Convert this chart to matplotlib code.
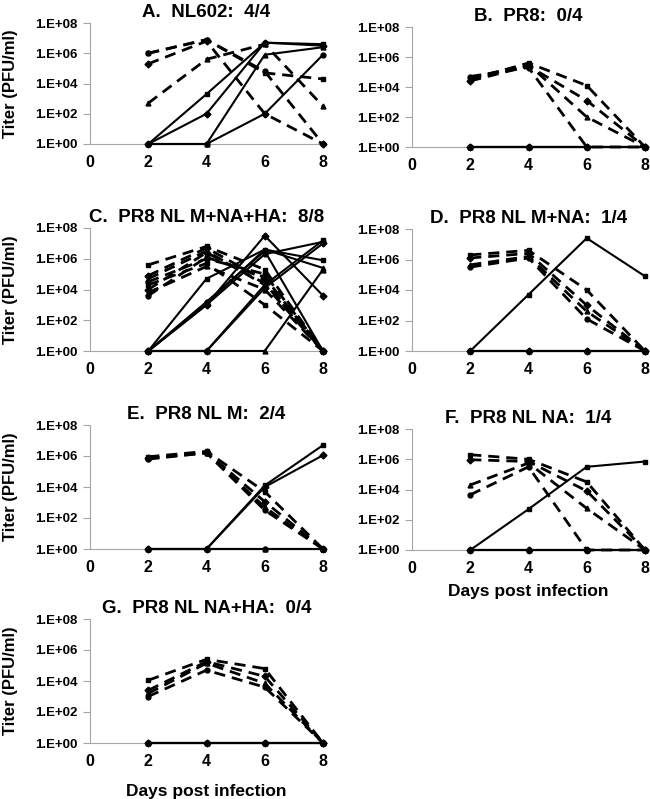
import numpy as np
import matplotlib
matplotlib.use("Agg")
import matplotlib.pyplot as plt

plt.rcParams['font.family'] = ['Liberation Sans', 'DejaVu Sans']
plt.rcParams['font.weight'] = 'bold'

days = [2, 4, 6, 8]

# log10 titer (PFU/ml); 0 means below detection (plotted at 1.E+00)
# dashed = inoculated animals, solid = contact animals
A_dashed = [[6.0, 6.9, 4.7, 4.3], [5.3, 6.8, 2.0, 0.0], [2.7, 5.6, 6.6, 2.5], [6.0, 6.9, 4.8, 0.0]]
A_solid = [[0.0, 3.3, 6.7, 6.6], [0.0, 2.0, 6.7, 6.5], [0.0, 0.0, 5.9, 6.4], [0.0, 0.0, 2.0, 5.9]]

B_dashed = [[4.5, 5.6, 4.1, 0.0], [4.4, 5.4, 3.1, 0.0], [4.6, 5.5, 2.0, 0.0], [4.7, 5.3, 0.0, 0.0]]
B_solid = [[0.0, 0.0, 0.0, 0.0]] * 4

C_dashed = [[5.6, 6.8, 5.3, 0.0], [4.9, 6.7, 4.6, 0.0], [4.7, 6.5, 4.3, 0.0], [4.5, 6.0, 5.0, 0.0],
            [4.3, 5.7, 3.0, 0.0], [4.0, 6.4, 4.4, 0.0], [3.8, 5.5, 4.0, 0.0], [3.6, 6.1, 4.8, 0.0]]
C_solid = [[0.0, 4.7, 6.6, 5.9], [0.0, 3.0, 7.5, 3.6], [0.0, 3.1, 6.6, 5.4], [0.0, 3.2, 6.5, 0.0],
           [0.0, 0.0, 4.3, 7.2], [0.0, 0.0, 4.1, 7.0], [0.0, 0.0, 0.0, 5.3], [0.0, 3.0, 6.3, 7.1]]

D_dashed = [[6.3, 6.6, 4.0, 0.0], [6.1, 6.4, 3.0, 0.0], [5.65, 6.2, 2.6, 0.0], [5.5, 6.1, 2.1, 0.0]]
D_solid = [[0.0, 3.7, 7.4, 4.9], [0.0, 0.0, 0.0, 0.0], [0.0, 0.0, 0.0, 0.0], [0.0, 0.0, 0.0, 0.0]]

E_dashed = [[5.95, 6.3, 3.7, 0.0], [5.85, 6.25, 3.05, 0.0], [5.85, 6.2, 2.7, 0.0], [5.8, 6.2, 2.5, 0.0]]
E_solid = [[0.0, 0.0, 4.1, 6.7], [0.0, 0.0, 4.0, 6.05], [0.0, 0.0, 0.0, 0.0], [0.0, 0.0, 0.0, 0.0]]

F_dashed = [[6.3, 6.0, 4.5, 0.0], [5.97, 5.85, 3.9, 0.0], [4.3, 5.75, 2.75, 0.0], [3.65, 5.5, 0.0, 0.0]]
F_solid = [[0.0, 2.7, 5.5, 5.85], [0.0, 0.0, 0.0, 0.0], [0.0, 0.0, 0.0, 0.0], [0.0, 0.0, 0.0, 0.0]]

G_dashed = [[4.05, 5.4, 4.8, 0.0], [3.4, 5.25, 4.3, 0.0], [3.2, 5.15, 3.85, 0.0], [3.0, 4.7, 3.6, 0.0]]
G_solid = [[0.0, 0.0, 0.0, 0.0]] * 4

titles = ["A.  NL602:  4/4", "B.  PR8:  0/4", "C.  PR8 NL M+NA+HA:  8/8",
          "D.  PR8 NL M+NA:  1/4", "E.  PR8 NL M:  2/4", "F.  PR8 NL NA:  1/4",
          "G.  PR8 NL NA+HA:  0/4"]
panels = [(A_dashed, A_solid), (B_dashed, B_solid), (C_dashed, C_solid), (D_dashed, D_solid),
          (E_dashed, E_solid), (F_dashed, F_solid), (G_dashed, G_solid)]

# axes boxes in figure pixels: (x0, y_top, y_bottom)
boxes = [(90, 23, 144), (412, 27, 147), (90, 228, 351), (412, 229, 351),
         (90, 425, 549), (412, 429, 550), (90, 619, 743)]

W, H = 650, 799
fig = plt.figure(figsize=(W / 100, H / 100), dpi=100)
markers = ['s', 'D', '^', 'o']
grey = '#a6a6a6'

for i, (title, (dashed, solid), (x0, yt, yb)) in enumerate(zip(titles, panels, boxes)):
    ax = fig.add_axes([x0 / W, 1 - yb / H, 233 / W, (yb - yt) / H])
    for j, v in enumerate(dashed):
        ax.plot(days, 10 ** np.array(v), color='black', lw=2, dashes=(4, 2.5),
                marker=markers[j % 4], ms=3.5, clip_on=False, zorder=3)
    for j, v in enumerate(solid):
        ax.plot(days, 10 ** np.array(v), color='black', lw=1.5,
                marker=markers[j % 4], ms=3.5, clip_on=False, zorder=4)
    ax.set_yscale('log')
    ax.set_ylim(1, 1e8)
    ax.set_xlim(0, 8)
    ax.set_yticks([1, 1e2, 1e4, 1e6, 1e8])
    ax.set_yticklabels(['1.E+00', '1.E+02', '1.E+04', '1.E+06', '1.E+08'])
    ax.minorticks_off()
    ax.set_xticks([0, 2, 4, 6, 8])
    ax.tick_params(axis='y', length=5, color=grey, labelsize=9.5, pad=4)
    ax.tick_params(axis='x', length=0, labelsize=11.5, pad=8)
    for lab in ax.get_xticklabels() + ax.get_yticklabels():
        lab.set_fontweight('bold')
    ax.spines['top'].set_visible(False)
    ax.spines['right'].set_visible(False)
    ax.spines['left'].set_color(grey)
    ax.spines['bottom'].set_color(grey)
    ax.set_title(title, fontsize=13.5, fontweight='bold', pad=4)
    if x0 < 200:
        ax.set_ylabel('Titer (PFU/ml)', fontsize=12, fontweight='bold', labelpad=12)
    if i == 5:
        ax.set_xlabel('Days post infection', fontsize=12.5, fontweight='bold', labelpad=6)
    if i == 6:
        ax.set_xlabel('Days post infection', fontsize=12.5, fontweight='bold', labelpad=11)

fig.savefig('out.png', dpi=100)
